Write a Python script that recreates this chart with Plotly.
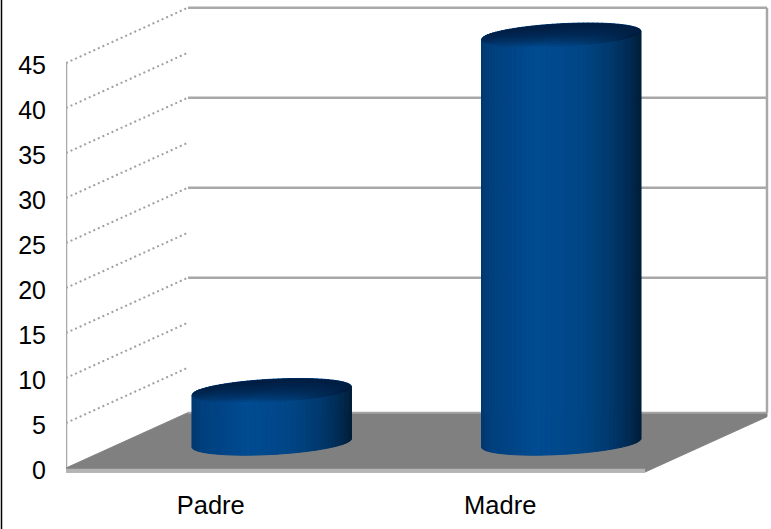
import numpy as np
import plotly.graph_objects as go

# Chart data
categories = ["Padre", "Madre"]
values = [5.5, 45]
y_ticks = [0, 5, 10, 15, 20, 25, 30, 35, 40, 45]
dotted_levels = [5, 10, 15, 20, 25, 30, 35, 40, 45]
solid_levels = [15, 25, 35, 45]

# Oblique projection: depth 0..1 shifts along x (category units) and y (value units)
DEPTH_X = 122 / 289.5
DEPTH_Y = 6.15
SLAB = 0.45

# Cylinder footprint, in category units and depth fraction
RADIUS_X = 74.8 / 289.5
RADIUS_D = 0.223
BASE_LEVEL = -0.28

WALL = "#a8a8a8"
FLOOR = "#808080"
FLOOR_EDGE = "#b4b4b4"
CAP_SHADE = "rgba(0,22,52,0.13)"
FONT = "Liberation Sans, Arial, sans-serif"

# Horizontal shading of the cylinder wall (position across the width, RGB)
SIDE_STOPS = [0.0, 0.07, 0.35, 0.62, 0.82, 0.93, 1.0]
SIDE_RGB = [(0, 56, 112), (0, 64, 126), (0, 75, 146), (0, 70, 134),
            (0, 56, 108), (0, 42, 82), (0, 30, 58)]


def project(cat, depth, value):
    return cat + depth * DEPTH_X, value + depth * DEPTH_Y


def ramp(u, stops, rgb):
    c = [np.interp(u, stops, [p[i] for p in rgb]) for i in range(3)]
    return "rgb(%d,%d,%d)" % tuple(int(round(v)) for v in c)


def polygon(xs, ys, color, edge=1):
    return go.Scatter(x=list(xs), y=list(ys), mode="lines", fill="toself", fillcolor=color,
                      line=dict(color=color, width=edge), cliponaxis=False, hoverinfo="skip",
                      showlegend=False)


def segment(p0, p1, color, width, dash="solid"):
    return go.Scatter(x=[p0[0], p1[0]], y=[p0[1], p1[1]], mode="lines",
                      line=dict(color=color, width=width, dash=dash), cliponaxis=False,
                      hoverinfo="skip", showlegend=False)


def rim(center, value, t):
    return project(center + RADIUS_X * np.cos(t), 0.5 + RADIUS_D * np.sin(t), value)


def cylinder(center, value, n_side=48, n_cap=13):
    traces = []
    # Tangent angle of the projected ellipse on the left and right silhouette
    tilt = np.arctan2(RADIUS_D * DEPTH_X, RADIUS_X)
    ts = np.linspace(np.pi + tilt, 2 * np.pi + tilt, n_side + 1)
    x_all, _ = rim(center, BASE_LEVEL, ts)
    x_min, x_max = x_all.min(), x_all.max()
    shade = lambda x: ramp(np.clip((x - x_min) / (x_max - x_min), 0, 1), SIDE_STOPS, SIDE_RGB)

    # Wall, one strip per step around the visible half
    for a, b in zip(ts[:-1], ts[1:]):
        xa, ya = rim(center, BASE_LEVEL, a)
        xb, yb = rim(center, BASE_LEVEL, b)
        xt_a, yt_a = rim(center, value, a)
        xt_b, yt_b = rim(center, value, b)
        traces.append(polygon([xa, xb, xt_b, xt_a, xa], [ya, yb, yt_b, yt_a, ya],
                              shade((xa + xb) / 2)))

    # Cap, strips running front to back so the front lip carries the wall colours
    bands = np.linspace(np.pi, 2 * np.pi, n_side + 1)
    for a, b in zip(bands[:-1], bands[1:]):
        xa, ya = rim(center, value, a)
        xb, yb = rim(center, value, b)
        xc, yc = rim(center, value, -b)
        xd, yd = rim(center, value, -a)
        traces.append(polygon([xa, xb, xc, xd, xa], [ya, yb, yc, yd, ya], shade((xa + xb) / 2)))

    # Cap darkening: stacked translucent layers, deepest along the back rim
    for limit in np.linspace(0.92, -0.9, n_cap):
        start = np.arcsin(limit)
        arc = np.linspace(start, np.pi - start, 81)
        xs, ys = rim(center, value, arc)
        traces.append(polygon(np.append(xs, xs[0]), np.append(ys, ys[0]), CAP_SHADE, edge=0))
    return traces


fig = go.Figure()
n = len(categories)

# Left wall guide lines running into the depth
for level in dotted_levels:
    fig.add_trace(segment(project(0, 0, level), project(0, 1, level), "#a0a0a0", 2, "2px,3px"))

# Back wall gridlines and right edge
for level in solid_levels:
    fig.add_trace(segment(project(0, 1, level), project(n, 1, level), WALL, 2.5))
fig.add_trace(segment(project(n, 1, 0), project(n, 1, max(y_ticks)), WALL, 2.5))
fig.add_trace(segment(project(0, 0, 0), project(0, 0, max(y_ticks)), WALL, 2.5))

# Floor with its thin front face
corners = [project(0, 0, 0), project(0, 0, -SLAB), project(n, 0, -SLAB), project(n, 1, -SLAB),
           project(n, 1, 0), project(0, 1, 0), project(0, 0, 0)]
fig.add_trace(polygon([c[0] for c in corners], [c[1] for c in corners], FLOOR))
fig.add_trace(segment(project(0, 0, -SLAB / 2 - 0.05), project(n, 0, -SLAB / 2 - 0.05), FLOOR_EDGE, 3.5))
fig.add_trace(segment(project(0, 1, 0), project(n, 1, 0), "#a4a4a4", 2))

# One cylinder per category
for i, v in enumerate(values):
    for tr in cylinder(i + 0.5, v):
        fig.add_trace(tr)

fig.update_layout(
    width=771,
    height=529,
    autosize=False,
    margin=dict(l=66, r=0, t=0, b=52, pad=0),
    paper_bgcolor="white",
    plot_bgcolor="white",
    showlegend=False,
    font=dict(family=FONT, size=25, color="black"),
    xaxis=dict(range=[0, 705 / 289.5], tickvals=[i + 0.5 for i in range(n)], ticktext=categories,
               showgrid=False, zeroline=False, showline=False, ticks="outside", ticklen=5,
               tickcolor="rgba(0,0,0,0)", tickfont=dict(family=FONT, size=25.5, color="black")),
    yaxis=dict(range=[-1, 52], tickvals=y_ticks, ticktext=[str(t) for t in y_ticks],
               showgrid=False, zeroline=False, showline=False, ticks="outside", ticklen=14,
               ticklabelshift=2, tickcolor="rgba(0,0,0,0)",
               tickfont=dict(family=FONT, size=25, color="black")),
    shapes=[dict(type="line", xref="paper", yref="paper", x0=-64.5 / 705, x1=-64.5 / 705,
                 y0=-52 / 477, y1=1, line=dict(color="black", width=1.5))],
)

fig.write_html("out.html", config=dict(displayModeBar=False))
